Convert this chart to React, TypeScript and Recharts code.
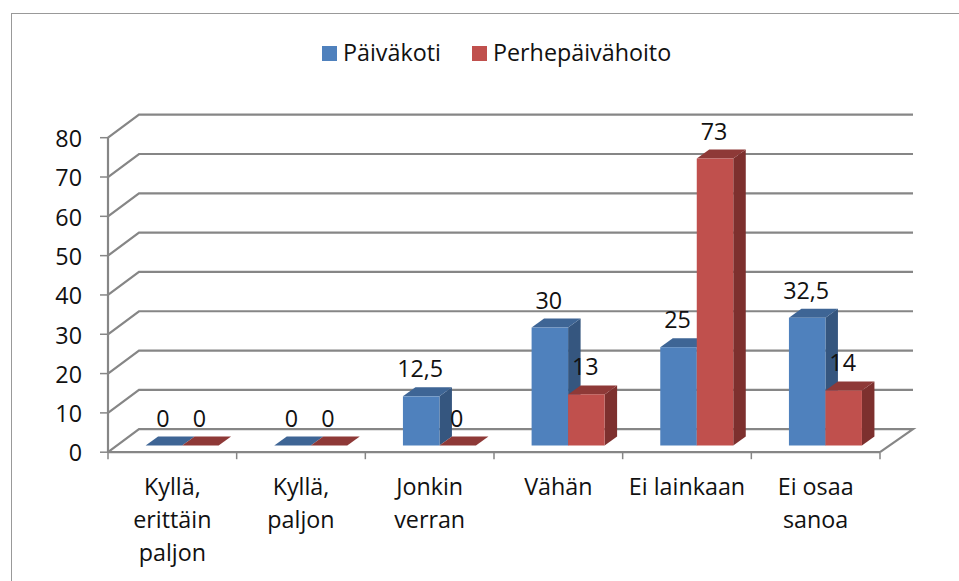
import { Bar, BarChart, CartesianGrid, LabelList, Legend, XAxis, YAxis } from 'recharts';

const categories = ['Kyllä,\nerittäin\npaljon', 'Kyllä,\npaljon', 'Jonkin\nverran', 'Vähän', 'Ei lainkaan', 'Ei osaa\nsanoa'];
const paivakoti = [0, 0, 12.5, 30, 25, 32.5];
const perhepaivahoito = [0, 0, 0, 13, 73, 14];
const yTicks = [0, 10, 20, 30, 40, 50, 60, 70, 80];

const data = categories.map((name, i) => ({
  name,
  paivakoti: paivakoti[i],
  perhepaivahoito: perhepaivahoito[i],
}));

const FONT = '"Open Sans", sans-serif';
const FONT_SIZE = 23.3;
const AXIS_COLOR = '#868686';
const TEXT_COLOR = '#111';

// 3d offsets
const WALL_DX = 31;
const WALL_DY = 23;
const BAR_SHIFT_X = 9.6;
const BAR_SHIFT_Y = 6.7;
const BAR_DX = 12.5;
const BAR_DY = 9;

const BLUE = { front: '#4F81BD', side: '#35567F', top: '#3E6595' };
const RED = { front: '#C0504D', side: '#7D302E', top: '#8E3937' };

const Bar3D = (colors: typeof BLUE) => (props: any) => {
  const x = props.x + BAR_SHIFT_X;
  const y = props.y - BAR_SHIFT_Y;
  const w = props.width;
  const h = props.height;
  return (
    <g>
      <polygon
        points={`${x + w},${y} ${x + w + BAR_DX},${y - BAR_DY} ${x + w + BAR_DX},${y + h - BAR_DY} ${x + w},${y + h}`}
        fill={colors.side}
      />
      <polygon
        points={`${x},${y} ${x + BAR_DX},${y - BAR_DY} ${x + w + BAR_DX},${y - BAR_DY} ${x + w},${y}`}
        fill={colors.top}
      />
      <rect x={x} y={y} width={w} height={h} fill={colors.front} />
    </g>
  );
};

const WallLine = (props: any) => {
  const { x1, x2, y1 } = props;
  const isFloor = Math.abs(y1 - 452.5) < 1;
  const d = `M${x1},${y1} L${x1 + WALL_DX},${y1 - WALL_DY} L${x2 + WALL_DX + 2},${y1 - WALL_DY}${isFloor ? ` L${x2},${y1}` : ''}`;
  return <path d={d} fill="none" stroke={AXIS_COLOR} strokeWidth={2.2} />;
};

const CategoryTick = (props: any) => {
  const { x, y, payload, index } = props;
  const half = 128.67 / 2;
  const lines = String(payload.value).split('\n');
  return (
    <g>
      <line x1={x - half} x2={x - half} y1={y} y2={y + 7} stroke={AXIS_COLOR} strokeWidth={1.5} />
      {index === categories.length - 1 && (
        <line x1={x + half} x2={x + half} y1={y} y2={y + 7} stroke={AXIS_COLOR} strokeWidth={1.5} />
      )}
      {lines.map((line, i) => (
        <text
          key={line}
          x={x}
          y={y + 42.5 + i * 33}
          textAnchor="middle"
          fontFamily={FONT}
          fontSize={FONT_SIZE}
          fill={TEXT_COLOR}
        >
          {line}
        </text>
      ))}
    </g>
  );
};

const BarValue = (props: any) => {
  const { x, y, width, value } = props;
  return (
    <text
      x={x + width / 2 + BAR_SHIFT_X - 1}
      y={y - BAR_SHIFT_Y - 19}
      textAnchor="middle"
      fontFamily={FONT}
      fontSize={FONT_SIZE}
      fill={TEXT_COLOR}
    >
      {String(value).replace('.', ',')}
    </text>
  );
};

const LegendBox = () => (
  <div style={{ position: 'relative', width: 400, height: 30, fontFamily: FONT, fontSize: FONT_SIZE, color: TEXT_COLOR }}>
    <div style={{ position: 'absolute', left: 0, top: 7, width: 15, height: 15, background: BLUE.front }} />
    <div style={{ position: 'absolute', left: 21, top: -2, lineHeight: '30px' }}>Päiväkoti</div>
    <div style={{ position: 'absolute', left: 150, top: 7, width: 15, height: 15, background: RED.front }} />
    <div style={{ position: 'absolute', left: 171, top: -2, lineHeight: '30px' }}>Perhepäivähoito</div>
  </div>
);

export default function App() {
  return (
    <div style={{ position: 'absolute', left: 0, top: 0, width: 959, height: 581, background: '#fff', overflow: 'hidden' }}>
      <div
        style={{
          position: 'absolute',
          left: 11,
          top: 13,
          width: 960,
          height: 580,
          borderLeft: '1.5px solid #999',
          borderTop: '1.5px solid #999',
        }}
      />
      <BarChart
        width={959}
        height={581}
        data={data}
        barSize={36.5}
        barGap={0}
        margin={{ top: 137.7, right: 79, bottom: 0, left: 0 }}
        style={{ position: 'absolute', left: 0, top: 0 }}
      >
        <CartesianGrid vertical={false} horizontal={(p: any) => <WallLine key={p.key} {...p} />} />
        <XAxis
          dataKey="name"
          height={128.8}
          interval={0}
          tickSize={0}
          tickMargin={0}
          axisLine={{ stroke: AXIS_COLOR, strokeWidth: 2.2 }}
          tickLine={false}
          tick={(p: any) => <CategoryTick {...p} />}
        />
        <YAxis
          width={108}
          domain={[0, 80]}
          ticks={yTicks}
          interval={0}
          tickSize={8}
          tickMargin={18}
          axisLine={{ stroke: AXIS_COLOR, strokeWidth: 2.2 }}
          tickLine={{ stroke: AXIS_COLOR, strokeWidth: 1.5 }}
          tick={{ fontFamily: FONT, fontSize: FONT_SIZE, fill: TEXT_COLOR, dy: 1 }}
        />
        <Legend
          verticalAlign="middle"
          content={() => <LegendBox />}
          wrapperStyle={{ position: 'absolute', left: 322, top: 39, width: 400 }}
        />
        <Bar dataKey="paivakoti" isAnimationActive={false} shape={Bar3D(BLUE)}>
          <LabelList dataKey="paivakoti" content={(p: any) => <BarValue {...p} />} />
        </Bar>
        <Bar dataKey="perhepaivahoito" isAnimationActive={false} shape={Bar3D(RED)}>
          <LabelList dataKey="perhepaivahoito" content={(p: any) => <BarValue {...p} />} />
        </Bar>
      </BarChart>
    </div>
  );
}
